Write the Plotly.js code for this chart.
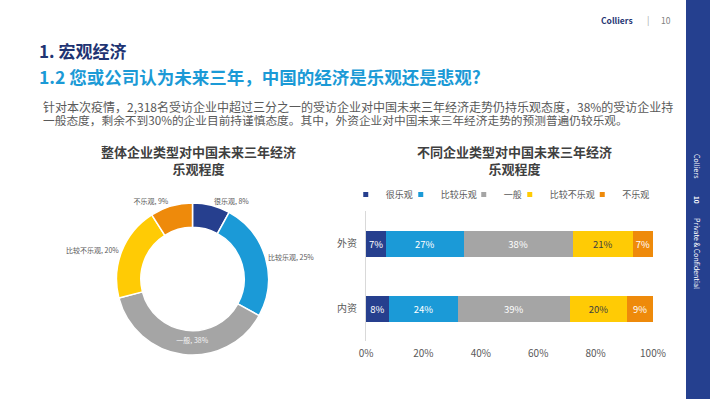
<!DOCTYPE html>
<html>
<head>
<meta charset="utf-8">
<script src="https://cdn.plot.ly/plotly-3.0.1.min.js"></script>
<style>
  html, body { margin: 0; padding: 0; background: #ffffff; }
  #chart { width: 710px; height: 399px; }
</style>
</head>
<body>
<div id="chart"></div>
<script>
// ---------- data ----------
const levels = ['很乐观', '比较乐观', '一般', '比较不乐观', '不乐观'];
const overallValues = [8, 25, 38, 20, 9];
const companyTypes = ['外资', '内资'];
const veryOptimistic = [7, 8];
const fairlyOptimistic = [27, 24];
const neutral = [38, 39];
const fairlyPessimistic = [21, 20];
const pessimistic = [7, 9];
const xTickValues = [0, 20, 40, 60, 80, 100];
const xTickLabels = ['0%', '20%', '40%', '60%', '80%', '100%'];

// ---------- styling ----------
const W = 710, H = 399;
const px = x => x / W;
const py = y => 1 - y / H;
const FONT = '"Noto Sans CJK SC", "Noto Sans", sans-serif';
const colors = ['#263f8e', '#1b9ad7', '#a5a5a5', '#ffcb05', '#ee8a0b'];
const textColors = ['#ffffff', '#ffffff', '#ffffff', '#404040', '#ffffff'];
const barSeries = [veryOptimistic, fairlyOptimistic, neutral, fairlyPessimistic, pessimistic];
const legendWidths = [10, 18, 1, 27.5, 0];

const traces = [];
traces.push({
  type: 'pie',
  labels: levels,
  values: overallValues,
  sort: false,
  direction: 'clockwise',
  rotation: 0,
  hole: 0.68,
  showlegend: false,
  domain: { x: [px(116.5), px(268.5)], y: [py(355), py(203)] },
  marker: { colors: colors, line: { color: '#ffffff', width: 1.5 } },
  texttemplate: '%{label}, %{value}%',
  textposition: ['outside', 'outside', 'inside', 'outside', 'outside'],
  insidetextorientation: 'horizontal',
  outsidetextfont: { family: FONT, size: 7, color: '#595959' },
  insidetextfont: { family: FONT, size: 7, color: '#f5f5f5' },
  hoverinfo: 'label+percent'
});

barSeries.forEach((vals, i) => {
  traces.push({
    type: 'bar',
    orientation: 'h',
    name: levels[i],
    legendgroup: levels[i],
    showlegend: false,
    x: vals,
    y: companyTypes,
    xaxis: 'x',
    yaxis: 'y',
    marker: { color: colors[i] },
    text: vals.map(v => v + '%'),
    texttemplate: '%{text}',
    textposition: 'inside',
    insidetextanchor: 'middle',
    textangle: 0,
    textfont: { family: FONT, size: 9.5, color: textColors[i] },
    constraintext: 'none'
  });
});
// legend entries (small square keys, as in the reference)
levels.forEach((name, i) => {
  traces.push({
    type: 'scatter',
    mode: 'markers',
    name: name,
    legendgroup: name,
    x: [null], y: [null],
    xaxis: 'x', yaxis: 'y',
    marker: { symbol: 'square', size: 5, color: colors[i] },
    legendwidth: legendWidths[i],
    hoverinfo: 'skip'
  });
});

const ann = [];
function addText(text, x, y, opts) {
  ann.push(Object.assign({
    text: text, x: px(x), y: py(y), xref: 'paper', yref: 'paper',
    showarrow: false, xanchor: 'center', yanchor: 'middle',
    font: { family: FONT, size: 12, color: '#595959' }
  }, opts || {}));
}
// header
addText('<b>Colliers</b>', 617, 20, { font: { family: FONT, size: 8.5, color: '#1f3473' } });
addText('|', 648, 20, { font: { family: FONT, size: 9, color: '#a6a6a6' } });
addText('10', 666, 20, { font: { family: FONT, size: 8.5, color: '#7f7f7f' } });
addText('<b>1. 宏观经济</b>', 37, 50, { xanchor: 'left', font: { family: FONT, size: 17, color: '#1f3473' } });
addText('<b>1.2 您或公司认为未来三年，中国的经济是乐观还是悲观?</b>', 37, 77, { xanchor: 'left', font: { family: FONT, size: 17.5, color: '#1b9ad6' } });
addText('针对本次疫情，2,318名受访企业中超过三分之一的受访企业对中国未来三年经济走势仍持乐观态度，38%的受访企业持', 41, 106, { xanchor: 'left', font: { family: FONT, size: 12, color: '#595959' } });
addText('一般态度，剩余不到30%的企业目前持谨慎态度。其中，外资企业对中国未来三年经济走势的预测普遍仍较乐观。', 41, 119.5, { xanchor: 'left', font: { family: FONT, size: 11.7, color: '#595959' } });
// chart titles
addText('<b>整体企业类型对中国未来三年经济<br>乐观程度</b>', 198, 160.5, { font: { family: FONT, size: 13, color: '#404040' } });
addText('<b>不同企业类型对中国未来三年经济<br>乐观程度</b>', 514, 159.5, { font: { family: FONT, size: 13, color: '#404040' } });
// side band
addText('Colliers', 697, 166, { textangle: 90, font: { family: FONT, size: 7, color: '#ffffff' } });
addText('<b>10</b>', 697, 200, { textangle: 90, font: { family: FONT, size: 6.5, color: '#ffffff' } });
addText('Private & Confidential', 697, 253, { textangle: 90, font: { family: FONT, size: 7, color: '#ffffff' } });

const layout = {
  width: W, height: H, autosize: false,
  margin: { l: 0, r: 0, t: 0, b: 0, pad: 0 },
  paper_bgcolor: '#ffffff',
  plot_bgcolor: 'rgba(0,0,0,0)',
  font: { family: FONT, color: '#595959' },
  barmode: 'stack',
  bargap: 0.6,
  xaxis: {
    domain: [px(366), px(653)],
    range: [0, 100],
    tickmode: 'array',
    tickvals: xTickValues,
    ticktext: xTickLabels,
    showgrid: false, zeroline: false, showline: false,
    ticks: '',
    ticklabelstandoff: 5,
    tickfont: { family: FONT, size: 10, color: '#595959' },
    fixedrange: true
  },
  yaxis: {
    domain: [py(341.2), py(211.2)],
    type: 'category',
    categoryarray: companyTypes,
    range: [1.5, -0.5],
    showgrid: false, zeroline: false,
    showline: true, linecolor: '#d9d9d9', linewidth: 1,
    ticks: '',
    ticklabelstandoff: 6,
    tickfont: { family: FONT, size: 10, color: '#595959' },
    fixedrange: true
  },
  showlegend: true,
  legend: {
    orientation: 'h',
    x: px(345.75), xanchor: 'left',
    y: py(194.5), yanchor: 'middle',
    bgcolor: 'rgba(0,0,0,0)',
    font: { family: FONT, size: 9, color: '#595959' },
    traceorder: 'normal',
    itemclick: false, itemdoubleclick: false
  },
  shapes: [{
    type: 'rect', xref: 'paper', yref: 'paper',
    x0: px(686), x1: 1, y0: 0, y1: 1,
    fillcolor: '#25408f', line: { width: 0 }, layer: 'below'
  }],
  annotations: ann
};

Plotly.newPlot('chart', traces, layout, { displayModeBar: false, staticPlot: true });
</script>
</body>
</html>
